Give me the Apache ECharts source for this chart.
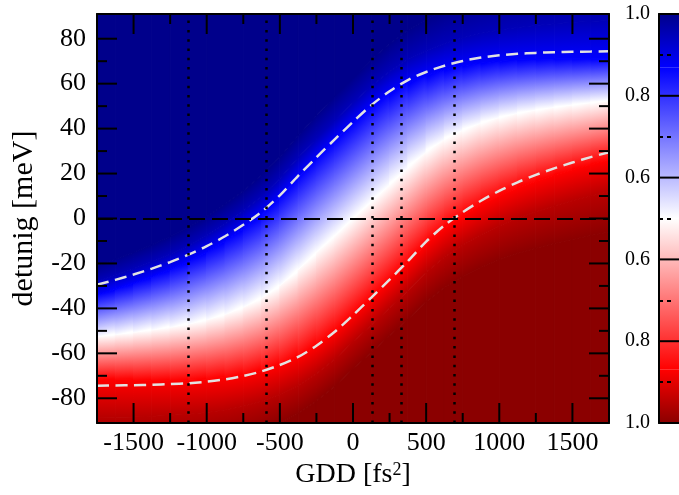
<!DOCTYPE html>
<html>
<head>
<meta charset="utf-8">
<script src="https://cdn.jsdelivr.net/npm/echarts@6/dist/echarts.min.js"></script>
<style>
  html, body { margin: 0; padding: 0; background: #fff; }
  #chart { width: 679px; height: 495px; }
</style>
</head>
<body>
<div id="chart"></div>
<script>
const gddKnots = [-1750, -1625, -1500, -1375, -1250, -1125, -1000, -875, -750, -625, -500, -375, -250, -125,
  0, 125, 250, 375, 500, 625, 750, 875, 1000, 1125, 1250, 1375, 1500, 1625, 1750];

// detuning (meV) of each colour level along gddKnots
const yLevel000 = [-106.5, -105.9, -105.3, -104.5, -103.6, -102.5, -101.1, -99.4, -97.2, -94.4, -91.0, -86.8, -81.2, -74.6,
  -67.0, -59.6, -52.2, -44.8, -37.0, -30.7, -25.9, -21.8, -18.4, -15.6, -13.2, -11.1, -9.3, -7.6, -6.0];
const yLevel005 = [-88.5, -88.4, -88.3, -88.0, -87.6, -87.1, -86.3, -85.2, -83.6, -81.3, -78.3, -74.4, -69.1, -62.6,
  -55.0, -47.5, -39.8, -32.1, -23.9, -17.1, -11.8, -7.2, -3.3, 0.1, 3.0, 5.6, 7.9, 10.0, 12.0];
const yLevel013 = [-71.5, -71.7, -71.9, -72.0, -72.0, -71.9, -71.5, -70.8, -69.6, -67.7, -65.1, -61.6, -56.6, -50.4,
  -43.0, -35.4, -27.6, -19.7, -11.3, -4.3, 1.2, 6.0, 10.1, 13.6, 16.6, 19.3, 21.7, 23.9, 26.0];
const yLevel050 = [-52.5, -51.6, -50.6, -49.5, -48.3, -46.9, -45.0, -42.6, -39.4, -35.4, -29.8, -22.8, -15.0, -7.6,
  0, 7.6, 15.0, 22.8, 29.8, 35.4, 39.4, 42.6, 45.0, 46.9, 48.3, 49.5, 50.6, 51.6, 52.5];
const yLevel087 = [-34.0, -31.5, -28.8, -25.9, -22.7, -19.1, -14.9, -10.1, -4.6, 1.6, 9.3, 18.3, 26.7, 34.7,
  42.5, 49.7, 55.6, 60.3, 63.6, 66.1, 67.9, 69.2, 70.0, 70.5, 70.8, 71.0, 71.1, 71.1, 71.1];
const yLevel095 = [-28.0, -25.3, -22.4, -19.3, -15.9, -12.1, -7.6, -2.5, 3.3, 9.8, 17.8, 27.0, 35.6, 43.7,
  51.5, 59.0, 65.4, 70.7, 74.7, 77.9, 80.4, 82.4, 83.9, 85.0, 85.9, 86.7, 87.3, 87.7, 88.1];
const yLevel100 = [-21.0, -18.1, -15.0, -11.7, -8.0, -3.9, 0.9, 6.3, 12.4, 19.2, 27.5, 37.1, 46.0, 54.4,
  62.5, 70.5, 77.6, 83.8, 88.6, 92.7, 96.1, 99.0, 101.3, 103.2, 104.8, 106.2, 107.4, 108.3, 109.1];
const levelValues = [0, 0.05, 0.13, 0.5, 0.87, 0.95, 1];

// white dashed curves (meV) on the same knots
const upperDashed = [-29.5, -27.3, -24.9, -22.3, -19.4, -16.1, -12.3, -7.9, -2.8, 3.0, 10.3, 19.0, 27.2, 35.2,
  43.0, 50.4, 56.6, 61.6, 65.2, 68.0, 70.1, 71.6, 72.6, 73.3, 73.7, 74.0, 74.2, 74.3, 74.4];
const lowerDashed = [-74.4, -74.3, -74.2, -74.0, -73.7, -73.3, -72.6, -71.6, -70.1, -68.0, -65.2, -61.6, -56.6, -50.4,
  -43.0, -35.2, -27.2, -19.0, -10.3, -3.0, 2.8, 7.9, 12.3, 16.1, 19.4, 22.3, 24.9, 27.3, 29.5];

// dotted vertical markers (fs^2)
const gddMarks = [-1125, -595, 135, 330, 690];

const gddRange = [-1750, 1750];
const detuningRange = [-91, 91];
const xMajorTicks = [-1500, -1000, -500, 0, 500, 1000, 1500];
const xMinorTicks = [-1250, -750, -250, 250, 750, 1250];
const yMajorTicks = [-80, -60, -40, -20, 0, 20, 40, 60, 80];
const yMinorTicks = [-70, -50, -30, -10, 10, 30, 50, 70];
const barMajorTicks = [0, 0.2, 0.4, 0.6, 0.8, 1];
const barMinorTicks = [0.1, 0.3, 0.5, 0.7, 0.9];

// colour scale: 0 = lower state (red), 1 = upper state (blue)
const cmapStops = [0, 0.13, 0.5, 0.87, 1];
const cmapColors = ['#8b0000', '#ff0000', '#ffffff', '#0000ff', '#00008b'];

const serif = '"Liberation Serif", "Times New Roman", serif';

function hexRgb(h) {
  return [parseInt(h.slice(1, 3), 16), parseInt(h.slice(3, 5), 16), parseInt(h.slice(5, 7), 16)];
}

function cmap(s) {
  let j = 0;
  while (j < cmapStops.length - 2 && s > cmapStops[j + 1]) j++;
  let t = (s - cmapStops[j]) / (cmapStops[j + 1] - cmapStops[j]);
  t = Math.max(0, Math.min(1, t));
  let a = hexRgb(cmapColors[j]), b = hexRgb(cmapColors[j + 1]);
  let c = a.map((v, k) => Math.round(v + (b[k] - v) * t));
  return 'rgb(' + c.join(',') + ')';
}

// one quad per (knot interval, colour band)
const levelY = [yLevel000, yLevel005, yLevel013, yLevel050, yLevel087, yLevel095, yLevel100];
const bandData = [];
for (let i = 0; i < gddKnots.length - 1; i++) {
  for (let k = 0; k <= levelY.length; k++) {
    let lo = k === 0 ? null : levelY[k - 1];
    let hi = k === levelY.length ? null : levelY[k];
    bandData.push([
      gddKnots[i], gddKnots[i + 1],
      lo ? lo[i] : -140, lo ? lo[i + 1] : -140,
      hi ? hi[i] : 140, hi ? hi[i + 1] : 140,
      lo ? levelValues[k - 1] : levelValues[0],
      hi ? levelValues[k] : levelValues[levelValues.length - 1]
    ]);
  }
}

function renderBand(params, api) {
  let p0 = api.coord([api.value(0), api.value(2)]);
  let p1 = api.coord([api.value(1), api.value(3)]);
  let q0 = api.coord([api.value(0), api.value(4)]);
  let q1 = api.coord([api.value(1), api.value(5)]);
  let s0 = api.value(6), s1 = api.value(7);
  let fill;
  if (s0 === s1) {
    fill = cmap(s0);
  } else {
    // gradient runs across the band, normal to its mean direction
    let tx = (p1[0] - p0[0]) + (q1[0] - q0[0]);
    let ty = (p1[1] - p0[1]) + (q1[1] - q0[1]);
    let len = Math.hypot(tx, ty) || 1;
    let nx = -ty / len, ny = tx / len;
    let mb = [(p0[0] + p1[0]) / 2, (p0[1] + p1[1]) / 2];
    let mt = [(q0[0] + q1[0]) / 2, (q0[1] + q1[1]) / 2];
    let d = (mt[0] - mb[0]) * nx + (mt[1] - mb[1]) * ny;
    fill = new echarts.graphic.LinearGradient(mb[0], mb[1], mb[0] + nx * d, mb[1] + ny * d, [
      { offset: 0, color: cmap(s0) },
      { offset: 1, color: cmap(s1) }
    ], true);
  }
  return {
    type: 'polygon',
    shape: { points: [p0, p1, q1, q0] },
    style: { fill: fill, stroke: fill, lineWidth: 1 }
  };
}

const barData = [];
for (let j = 0; j < cmapStops.length - 1; j++) {
  barData.push([cmapStops[j], cmapStops[j + 1]]);
}

function renderBar(params, api) {
  let a = api.coord([0, api.value(0)]);
  let b = api.coord([1, api.value(1)]);
  return {
    type: 'rect',
    shape: { x: a[0], y: b[1], width: b[0] - a[0], height: a[1] - b[1] },
    style: {
      fill: new echarts.graphic.LinearGradient(0, 1, 0, 0, [
        { offset: 0, color: cmap(api.value(0)) },
        { offset: 1, color: cmap(api.value(1)) }
      ])
    }
  };
}

// frame ticks: [value, 0 = GDD / 1 = detuning, length px]; drawn on all four sides
const frameTickData = []
  .concat(xMajorTicks.map(v => [v, 0, 20]), xMinorTicks.map(v => [v, 0, 10]))
  .concat(yMajorTicks.map(v => [v, 1, 20]), yMinorTicks.map(v => [v, 1, 10]));

function tickLine(x1, y1, x2, y2) {
  return { type: 'line', shape: { x1: x1, y1: y1, x2: x2, y2: y2 }, style: { stroke: '#000', lineWidth: 2 } };
}

function renderFrameTick(params, api) {
  let v = api.value(0), len = api.value(2);
  if (api.value(1) === 0) {
    let a = api.coord([v, detuningRange[0]]), b = api.coord([v, detuningRange[1]]);
    return { type: 'group', children: [tickLine(a[0], a[1], a[0], a[1] - len), tickLine(b[0], b[1], b[0], b[1] + len)] };
  }
  let a = api.coord([gddRange[0], v]), b = api.coord([gddRange[1], v]);
  return { type: 'group', children: [tickLine(a[0], a[1], a[0] + len, a[1]), tickLine(b[0], b[1], b[0] - len, b[1])] };
}

// colour bar major ticks: [x, level]
const barTickData = barMajorTicks.slice(1, -1).map(v => [0, v]);

function renderBarTick(params, api) {
  let a = api.coord([0, api.value(1)]);
  return { type: 'group', children: [tickLine(a[0], a[1], a[0] + 22, a[1])] };
}

// plot box in pixels; the label rows get grids spanning exactly their tick range
const box = { left: 97, top: 14, width: 512, height: 409 };
const barBox = { left: 659, top: 14, width: 80, height: 409 };
const pxGdd = box.width / (gddRange[1] - gddRange[0]);
const pxMeV = box.height / (detuningRange[1] - detuningRange[0]);

function xLabelGrid(ticks) {
  return { left: box.left + (ticks[0] - gddRange[0]) * pxGdd, width: (ticks[ticks.length - 1] - ticks[0]) * pxGdd,
    top: box.top, height: box.height };
}
function yLabelGrid(ticks) {
  return { left: box.left, width: box.width, height: (ticks[ticks.length - 1] - ticks[0]) * pxMeV,
    top: box.top + (detuningRange[1] - ticks[ticks.length - 1]) * pxMeV };
}
function barTickGrid(ticks) {
  return { left: barBox.left, width: barBox.width, height: (ticks[ticks.length - 1] - ticks[0]) * barBox.height,
    top: barBox.top + (1 - ticks[ticks.length - 1]) * barBox.height };
}

const frameLine = { show: true, onZero: false, lineStyle: { color: '#000', width: 2 } };

function labelAxis(gridIndex, position, ticks, extra) {
  return Object.assign({
    type: 'value',
    gridIndex: gridIndex,
    position: position,
    min: ticks[0],
    max: ticks[ticks.length - 1],
    interval: ticks[1] - ticks[0],
    z: 10,
    axisLine: { show: false, onZero: false },
    axisTick: { show: false },
    splitLine: { show: false }
  }, extra || {});
}

function frameAxis(gridIndex, position, range) {
  return {
    type: 'value', gridIndex: gridIndex, position: position, min: range[0], max: range[1], z: 10,
    axisLine: frameLine, axisTick: { show: false }, axisLabel: { show: false }, splitLine: { show: false }
  };
}

function hiddenAxis(gridIndex) {
  return { type: 'value', gridIndex: gridIndex, min: 0, max: 1, show: false };
}

let chart = echarts.init(document.getElementById('chart'));

let option = {
  animation: false,
  backgroundColor: '#fff',
  grid: [
    box,                            // 0 map
    xLabelGrid(xMajorTicks),        // 1
    yLabelGrid(yMajorTicks),        // 2
    barBox,                         // 3 colour bar
    barTickGrid(barMinorTicks)      // 4
  ],
  xAxis: [
    frameAxis(0, 'bottom', gddRange),
    frameAxis(0, 'top', gddRange),
    labelAxis(1, 'bottom', xMajorTicks, {
      axisLabel: { color: '#000', fontSize: 26, fontFamily: serif, margin: 7, formatter: v => String(v) },
      name: '{n|GDD [fs}{s|2}{n|]}',
      nameLocation: 'middle',
      nameGap: 36,
      nameTextStyle: {
        rich: {
          n: { fontSize: 28, fontFamily: serif, color: '#000' },
          s: { fontSize: 18, fontFamily: serif, color: '#000', verticalAlign: 'top' }
        }
      }
    }),
    hiddenAxis(2),
    frameAxis(3, 'bottom', [0, 1]),
    frameAxis(3, 'top', [0, 1]),
    hiddenAxis(4)
  ],
  yAxis: [
    frameAxis(0, 'left', detuningRange),
    frameAxis(0, 'right', detuningRange),
    hiddenAxis(1),
    labelAxis(2, 'left', yMajorTicks, {
      axisLabel: { color: '#000', fontSize: 26, fontFamily: serif, margin: 11 },
      name: 'detunig [meV]',
      nameLocation: 'middle',
      nameRotate: 90,
      nameGap: 58,
      nameTextStyle: { fontSize: 30, fontFamily: serif, color: '#000' }
    }),
    labelAxis(3, 'left', barMajorTicks, {
      axisLine: frameLine,
      axisLabel: {
        color: '#000', fontSize: 20, fontFamily: serif, margin: 9,
        formatter: v => Math.max(v, 1 - v).toFixed(1)
      }
    }),
    labelAxis(4, 'left', barMinorTicks, {
      axisLabel: { show: false },
      axisTick: { show: true, inside: true, length: 14, lineStyle: { color: '#000', width: 2, type: [4, 4] } }
    })
  ],
  series: [
    {
      type: 'custom',
      xAxisIndex: 0,
      yAxisIndex: 0,
      clip: true,
      silent: true,
      z: 1,
      renderItem: renderBand,
      data: bandData
    },
    {
      type: 'line',
      xAxisIndex: 0,
      yAxisIndex: 0,
      data: gddKnots.map((g, i) => [g, upperDashed[i]]),
      smooth: 0.3,
      symbol: 'none',
      silent: true,
      z: 3,
      lineStyle: { color: '#e2e2e2', width: 2.5, type: [12, 6.5] },
      markLine: {
        silent: true,
        symbol: ['none', 'none'],
        label: { show: false },
        data: [{ yAxis: 0, lineStyle: { color: '#000', width: 2, type: [16, 7] } }].concat(
          gddMarks.map(v => ({ xAxis: v, lineStyle: { color: '#000', width: 2.5, type: [2.5, 6.8] } }))
        )
      }
    },
    {
      type: 'line',
      xAxisIndex: 0,
      yAxisIndex: 0,
      data: gddKnots.map((g, i) => [g, lowerDashed[i]]),
      smooth: 0.3,
      symbol: 'none',
      silent: true,
      z: 3,
      lineStyle: { color: '#e2e2e2', width: 2.5, type: [12, 6.5] }
    },
    {
      type: 'custom',
      xAxisIndex: 0,
      yAxisIndex: 0,
      silent: true,
      z: 20,
      renderItem: renderFrameTick,
      data: frameTickData
    },
    {
      type: 'custom',
      xAxisIndex: 4,
      yAxisIndex: 4,
      silent: true,
      z: 1,
      renderItem: renderBar,
      data: barData
    },
    {
      type: 'custom',
      xAxisIndex: 4,
      yAxisIndex: 4,
      silent: true,
      z: 20,
      renderItem: renderBarTick,
      data: barTickData
    }
  ]
};

chart.setOption(option);
</script>
</body>
</html>
